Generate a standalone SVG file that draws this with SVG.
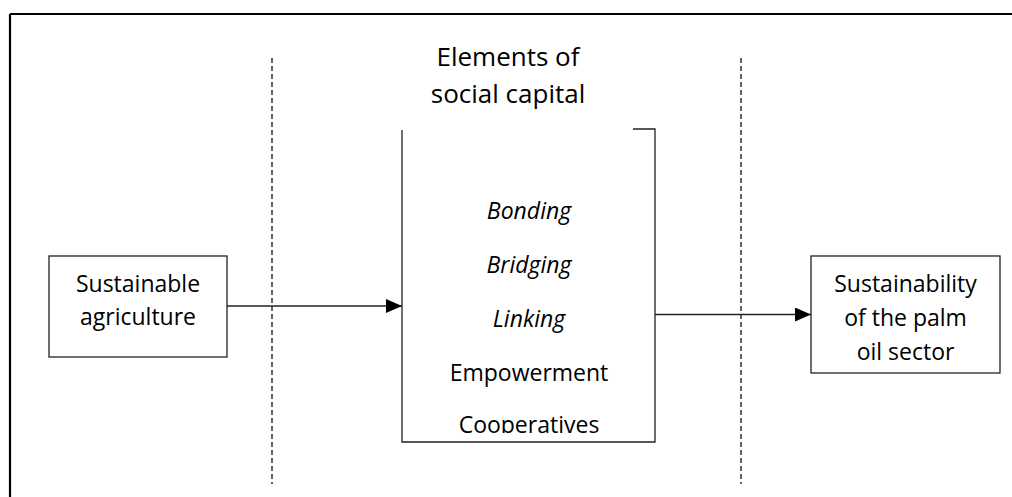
<svg xmlns="http://www.w3.org/2000/svg" width="1012" height="497" viewBox="0 0 1012 497">
  <style>
    .txt { font-family: "Open Sans", "Noto Sans", sans-serif; font-size: 23px; fill: #000; text-anchor: middle; }
    .title { font-size: 26px; }
    .it { font-style: italic; }
    .box { fill: #fff; stroke: #222; stroke-width: 1.3; }
    .guide { stroke: #111; stroke-width: 1.3; stroke-dasharray: 5 3; fill: none; }
    .link { stroke: #222; stroke-width: 1.3; fill: none; marker-end: url(#arrow); }
  </style>
  <defs>
    <marker id="arrow" viewBox="0 0 16 14" refX="16" refY="7" markerWidth="16" markerHeight="14" markerUnits="userSpaceOnUse" orient="auto">
      <path d="M0,0 L16,7 L0,14 Z" fill="#000"/>
    </marker>
    <clipPath id="listClip">
      <rect x="402" y="130" width="253" height="303"/>
    </clipPath>
  </defs>

  <rect width="1012" height="497" fill="#fff"/>

  <!-- frame: top and left edges -->
  <path d="M10,14 H1012 M10,14 V497" stroke="#000" stroke-width="2.2" fill="none"/>

  <!-- dashed stage dividers -->
  <g id="dividers">
    <line class="guide" x1="272" y1="58" x2="272" y2="484"/>
    <line class="guide" x1="741" y1="58" x2="741" y2="484"/>
  </g>

  <!-- connectors -->
  <g id="connectors">
    <line class="link" x1="227" y1="306" x2="402" y2="306"/>
    <line class="link" x1="655" y1="314.5" x2="811" y2="314.5"/>
  </g>

  <g id="node-agriculture">
    <rect class="box" x="49" y="256" width="178" height="101"/>
    <text class="txt" x="138" y="292">Sustainable</text>
    <text class="txt" x="138" y="325">agriculture</text>
  </g>

  <g id="node-social-capital">
    <text class="txt title" x="508" y="66">Elements of</text>
    <text class="txt title" x="508" y="102.7">social capital</text>
    <path d="M633,129 H655 V442 H402 V130" fill="none" stroke="#222" stroke-width="1.3"/>
    <g clip-path="url(#listClip)">
      <text class="txt it" x="529" y="219">Bonding</text>
      <text class="txt it" x="529" y="272.7">Bridging</text>
      <text class="txt it" x="529" y="326.7">Linking</text>
      <text class="txt" x="529" y="380.7">Empowerment</text>
      <text class="txt" x="529" y="433">Cooperatives</text>
    </g>
  </g>

  <g id="node-palm-oil">
    <rect class="box" x="811" y="256" width="189" height="117"/>
    <text class="txt" x="905.5" y="292">Sustainability</text>
    <text class="txt" x="905.5" y="326">of the palm</text>
    <text class="txt" x="905.5" y="360">oil sector</text>
  </g>
</svg>
